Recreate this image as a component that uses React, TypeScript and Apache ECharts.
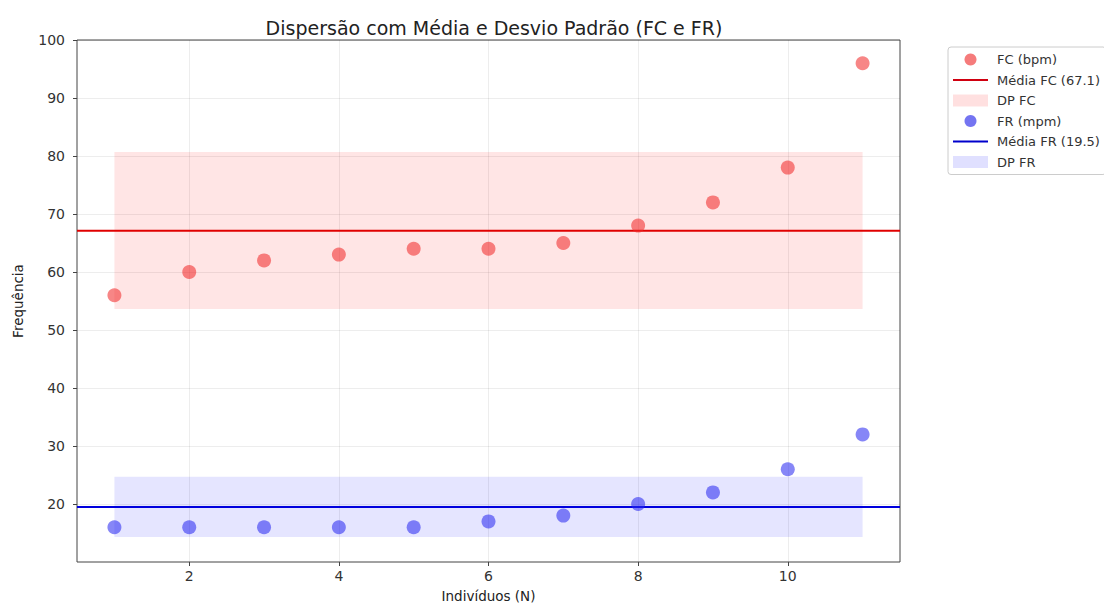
import React, { useEffect, useRef } from "react";
import * as echarts from "echarts";

const individuals = [1, 2, 3, 4, 5, 6, 7, 8, 9, 10, 11];
const fcValues = [56, 60, 62, 63, 64, 64, 65, 68, 72, 78, 96];
const frValues = [16, 16, 16, 16, 16, 17, 18, 20, 22, 26, 32];
const fcMean = 67.1;
const frMean = 19.5;
const fcBand = [53.6, 80.7];
const frBand = [14.3, 24.7];
const xTicks = [2, 4, 6, 8, 10];
const yTicks = [20, 30, 40, 50, 60, 70, 80, 90, 100];

const FONT = "'DejaVu Sans', sans-serif";

export default function App() {
  const ref = useRef<HTMLDivElement>(null);
  useEffect(() => {
    document.body.style.margin = "0";
    const chart = echarts.init(ref.current!, null, { renderer: "svg" });
    const xMin = 0.5;
    const xMax = 11.5;
    chart.setOption({
      animation: false,
      backgroundColor: "#ffffff",
      textStyle: { fontFamily: FONT },
      title: {
        text: "Dispersão com Média e Desvio Padrão (FC e FR)",
        left: 489,
        textAlign: "center",
        top: 13,
        textStyle: { fontFamily: FONT, fontSize: 19, fontWeight: "normal", color: "#222" },
      },
      legend: {
        orient: "vertical",
        left: 948,
        top: 47,
        itemWidth: 35,
        itemHeight: 12,
        itemGap: 7.5,
        padding: [6, 6, 6, 5],
        borderColor: "#cccccc",
        borderWidth: 1,
        borderRadius: 3,
        backgroundColor: "#ffffff",
        textStyle: { fontFamily: FONT, fontSize: 13, color: "#333", padding: [0, 0, 0, 4] },
        data: [
          { name: "FC (bpm)", icon: "circle", itemStyle: { color: "rgba(240,60,60,0.85)" } },
          { name: "Média FC (67.1)", icon: "path://M0,0 L35,0 L35,2 L0,2 Z", itemStyle: { color: "#d00010" } },
          { name: "DP FC", icon: "rect", itemStyle: { color: "rgba(255,0,0,0.12)" } },
          { name: "FR (mpm)", icon: "circle", itemStyle: { color: "rgba(50,50,235,0.85)" } },
          { name: "Média FR (19.5)", icon: "path://M0,0 L35,0 L35,2 L0,2 Z", itemStyle: { color: "#0000cc" } },
          { name: "DP FR", icon: "rect", itemStyle: { color: "rgba(0,0,255,0.12)" } },
        ],
      },
      grid: {
        left: 77,
        right: 204,
        top: 40,
        bottom: 43,
        show: true,
        borderColor: "#444",
        borderWidth: 1,
        backgroundColor: "transparent",
      },
      xAxis: {
        type: "value",
        min: xMin,
        max: xMax,
        name: "Indivíduos (N)",
        nameLocation: "middle",
        nameGap: 27,
        nameTextStyle: { fontFamily: FONT, fontSize: 13.5, color: "#222" },
        axisLine: { show: false },
        axisTick: { show: true, length: 4, lineStyle: { color: "#444" }, customValues: xTicks },
        axisLabel: { fontFamily: FONT, fontSize: 14, color: "#333", margin: 7, customValues: xTicks },
        splitLine: { show: true, lineStyle: { color: "rgba(0,0,0,0.07)", width: 1 } },
      },
      yAxis: {
        type: "value",
        min: 10,
        max: 100,
        interval: 10,
        name: "Frequência",
        nameLocation: "middle",
        nameGap: 52,
        nameTextStyle: { fontFamily: FONT, fontSize: 13.5, color: "#222" },
        axisLine: { show: false },
        axisTick: { show: true, length: 4, lineStyle: { color: "#444" }, customValues: yTicks },
        axisLabel: {
          fontFamily: FONT,
          fontSize: 14,
          color: "#333",
          margin: 12,
          customValues: yTicks,
        },
        splitLine: { show: true, lineStyle: { color: "rgba(0,0,0,0.07)", width: 1 } },
      },
      series: [
        {
          name: "DP FC",
          type: "line",
          data: [],
          silent: true,
          z: 1,
          markArea: {
            silent: true,
            itemStyle: { color: "rgba(255,0,0,0.1)" },
            data: [[{ coord: [individuals[0], fcBand[0]] }, { coord: [individuals[individuals.length - 1], fcBand[1]] }]],
          },
        },
        {
          name: "DP FR",
          type: "line",
          data: [],
          silent: true,
          z: 1,
          markArea: {
            silent: true,
            itemStyle: { color: "rgba(0,0,255,0.1)" },
            data: [[{ coord: [individuals[0], frBand[0]] }, { coord: [individuals[individuals.length - 1], frBand[1]] }]],
          },
        },
        {
          name: "Média FC (67.1)",
          type: "line",
          data: [[xMin, fcMean], [xMax, fcMean]],
          symbol: "none",
          lineStyle: { color: "#e00000", width: 2 },
          itemStyle: { color: "#e00000" },
          z: 3,
        },
        {
          name: "Média FR (19.5)",
          type: "line",
          data: [[xMin, frMean], [xMax, frMean]],
          symbol: "none",
          lineStyle: { color: "#0000dd", width: 2 },
          itemStyle: { color: "#0000dd" },
          z: 3,
        },
        {
          name: "FC (bpm)",
          type: "scatter",
          data: individuals.map((x, i) => [x, fcValues[i]]),
          symbolSize: 14,
          itemStyle: { color: "rgba(240,40,40,0.7)" },
          z: 4,
        },
        {
          name: "FR (mpm)",
          type: "scatter",
          data: individuals.map((x, i) => [x, frValues[i]]),
          symbolSize: 14,
          itemStyle: { color: "rgba(40,40,240,0.7)" },
          z: 4,
        },
      ],
    });
    return () => chart.dispose();
  }, []);
  return <div ref={ref} style={{ width: 1104, height: 608 }} />;
}
